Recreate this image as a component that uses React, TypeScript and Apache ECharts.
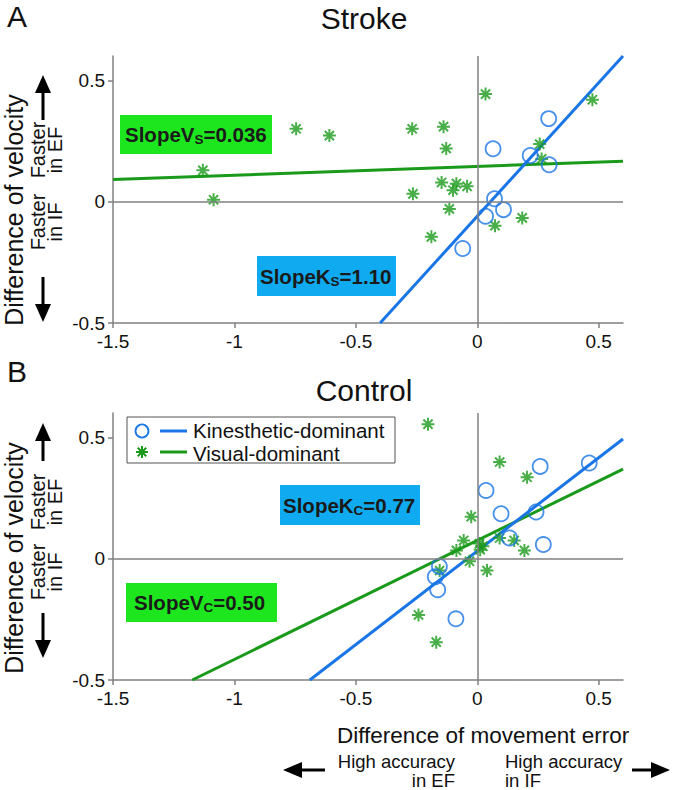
import React, { useEffect, useRef } from 'react';
import * as echarts from 'echarts';

// ---- data ----
const xTickValues = [-1.5, -1, -0.5, 0, 0.5];
const yTickValues = [-0.5, 0, 0.5];
const xRange = [-1.5, 0.6];
const yRange = [-0.5, 0.6];

const strokeKinesthetic = [
  [0.294, 0.342], [0.065, 0.218], [0.218, 0.19], [0.296, 0.152],
  [0.071, 0.012], [0.108, -0.033], [0.034, -0.06], [-0.06, -0.193],
];
const strokeVisual = [
  [-0.746, 0.3], [-0.609, 0.272], [-1.13, 0.129], [-1.086, 0.008],
  [0.034, 0.443], [0.474, 0.42], [-0.268, 0.3], [-0.139, 0.309],
  [-0.128, 0.219], [0.257, 0.237], [0.265, 0.176], [-0.147, 0.079],
  [-0.086, 0.074], [-0.1, 0.047], [-0.042, 0.063], [-0.265, 0.032],
  [-0.115, -0.03], [0.185, -0.067], [0.073, -0.099], [-0.189, -0.145],
];
const controlKinesthetic = [
  [0.259, 0.38], [0.461, 0.394], [0.036, 0.281], [0.098, 0.185],
  [0.242, 0.192], [0.133, 0.085], [0.272, 0.058], [-0.156, -0.032],
  [-0.173, -0.075], [-0.163, -0.128], [-0.088, -0.248],
];
const controlVisual = [
  [-0.203, 0.554], [0.092, 0.398], [0.205, 0.335], [-0.025, 0.173],
  [-0.056, 0.075], [-0.086, 0.034], [0.009, 0.062], [0.012, 0.037],
  [0.023, 0.051], [0.092, 0.085], [0.152, 0.075], [0.194, 0.034],
  [-0.032, -0.011], [0.04, -0.049], [-0.155, -0.049], [-0.242, -0.232],
  [-0.169, -0.344],
];
// regression fits [slope, intercept]
const strokeFitK = [1.10, -0.06];
const strokeFitV = [0.036, 0.145];
const controlFitK = [0.77, 0.031];
const controlFitV = [0.49, 0.075];

const BLUE = '#1a76e6';
const GREEN = '#1a9a1a';
const GRAY = '#808080';
const FONT = 'Liberation Sans, Arial, sans-serif';

function fitLine(fit: number[]) {
  const [m, b] = fit;
  let x0 = xRange[0];
  let x1 = xRange[1];
  const xa = (yRange[0] - b) / m;
  const xb = (yRange[1] - b) / m;
  x0 = Math.max(x0, Math.min(xa, xb));
  x1 = Math.min(x1, Math.max(xa, xb));
  return [[x0, m * x0 + b], [x1, m * x1 + b]];
}

const ASTERISK = 'path://M6,0 L6,12 M0,6 L12,6 M1.76,1.76 L10.24,10.24 M1.76,10.24 L10.24,1.76';

function axesFor(idx: number) {
  const common = {
    gridIndex: idx,
    axisLine: { show: true, onZero: false, lineStyle: { color: GRAY, width: 1.5 } },
    axisTick: { show: true, length: 5, lineStyle: { color: GRAY, width: 1.5 } },
    splitLine: { show: false },
    axisLabel: { color: '#111', fontSize: 19, fontFamily: FONT, margin: 8 },
  };
  return {
    x: {
      ...common,
      type: 'value',
      min: xRange[0],
      max: xRange[1],
      interval: 0.5,
      axisTick: { ...common.axisTick, customValues: xTickValues },
      axisLabel: { ...common.axisLabel, customValues: xTickValues, margin: 9 },
    },
    y: {
      ...common,
      type: 'value',
      min: yRange[0],
      max: yRange[1],
      interval: 0.5,
      axisTick: { ...common.axisTick, customValues: yTickValues },
      axisLabel: { ...common.axisLabel, customValues: yTickValues },
    },
  };
}

function seriesFor(idx: number, kin: number[][], vis: number[][], fitK: number[], fitV: number[]) {
  return [
    {
      type: 'line', xAxisIndex: idx, yAxisIndex: idx, data: fitLine(fitV), showSymbol: false,
      lineStyle: { color: GREEN, width: 3 }, z: 2, silent: true,
      markLine: {
        silent: true, symbol: ['none', 'none'], label: { show: false },
        lineStyle: { color: GRAY, width: 1.5, type: 'solid' },
        data: [{ xAxis: 0 }, { yAxis: 0 }],
      },
    },
    {
      type: 'line', xAxisIndex: idx, yAxisIndex: idx, data: fitLine(fitK), showSymbol: false,
      lineStyle: { color: BLUE, width: 3 }, z: 2, silent: true,
    },
    {
      type: 'scatter', xAxisIndex: idx, yAxisIndex: idx, data: vis, symbol: ASTERISK, symbolSize: 13,
      itemStyle: { color: 'transparent', borderColor: GREEN, borderWidth: 2 }, z: 3,
    },
    {
      type: 'scatter', xAxisIndex: idx, yAxisIndex: idx, data: kin, symbol: 'circle', symbolSize: 15,
      itemStyle: { color: 'transparent', borderColor: BLUE, borderWidth: 1.8 }, z: 4,
    },
  ];
}

function txt(x: number, y: number, text: string, size: number, extra: any = {}) {
  return {
    type: 'text', x, y, ...extra.el,
    style: {
      text, fontSize: size, fontFamily: FONT, fill: '#111',
      align: 'left', verticalAlign: 'middle', ...extra.style,
    },
  };
}

function vertArrow(x: number, tip: number, tail: number) {
  const dir = tail > tip ? 1 : -1;
  const head = 18;
  return [
    { type: 'line', shape: { x1: x, y1: tip + dir * (head - 2), x2: x, y2: tail }, style: { stroke: '#000', lineWidth: 3 } },
    { type: 'polygon', shape: { points: [[x, tip], [x - 8, tip + dir * head], [x + 8, tip + dir * head]] }, style: { fill: '#000' } },
  ];
}
function horizArrow(y: number, tip: number, tail: number) {
  const dir = tail > tip ? 1 : -1;
  const head = 19;
  return [
    { type: 'line', shape: { x1: tip + dir * (head - 2), y1: y, x2: tail, y2: y }, style: { stroke: '#000', lineWidth: 3 } },
    { type: 'polygon', shape: { points: [[tip, y], [tip + dir * head, y - 8], [tip + dir * head, y + 8]] }, style: { fill: '#000' } },
  ];
}

function slopeLabel(bx: number, by: number, bw: number, bh: number, tx: number, main: string, sub: string, val: string, color: string) {
  return [
    { type: 'rect', shape: { x: bx, y: by, width: bw, height: bh }, style: { fill: color }, z: 10 },
    {
      type: 'text', x: tx, y: by + bh / 2, z: 11,
      style: {
        text: `{a|${main}}{s|${sub}}{a|${val}}`,
        align: 'left', verticalAlign: 'middle',
        rich: {
          a: { fontSize: 20.5, fontWeight: 'bold', fontFamily: FONT, fill: '#1a1a1a', lineHeight: 24 },
          s: { fontSize: 13.5, fontWeight: 'bold', fontFamily: FONT, fill: '#1a1a1a', lineHeight: 14, verticalAlign: 'bottom' },
        },
      },
    },
  ];
}

function asteriskLines(cx: number, cy: number, r: number, color: string) {
  const d = r * 0.707;
  return [
    [cx, cy - r, cx, cy + r], [cx - r, cy, cx + r, cy],
    [cx - d, cy - d, cx + d, cy + d], [cx - d, cy + d, cx + d, cy - d],
  ].map(([x1, y1, x2, y2]) => ({ type: 'line', z: 12, shape: { x1, y1, x2, y2 }, style: { stroke: color, lineWidth: 2 } }));
}

export default function App() {
  const ref = useRef<HTMLDivElement>(null);
  useEffect(() => {
    if (!ref.current) return;
    const chart = echarts.init(ref.current, undefined, { renderer: 'svg' });
    const a0 = axesFor(0);
    const a1 = axesFor(1);
    const rot = { el: { rotation: Math.PI / 2 } };
    const graphic: any[] = [
      txt(7, 16, 'A', 30),
      txt(364, 18, 'Stroke', 30, { style: { align: 'center' } }),
      txt(7, 371, 'B', 30),
      txt(364, 390, 'Control', 30, { style: { align: 'center' } }),
      // y titles
      txt(14, 210, 'Difference of velocity', 25, { ...rot, style: { align: 'center', lineHeight: 26 } }),
      txt(14, 558, 'Difference of velocity', 25, { ...rot, style: { align: 'center', lineHeight: 26 } }),
      txt(46, 150, 'Faster\nin EF', 20, { ...rot, style: { align: 'center', lineHeight: 17 } }),
      txt(46, 222, 'Faster\nin IF', 20, { ...rot, style: { align: 'center', lineHeight: 17 } }),
      txt(46, 502, 'Faster\nin EF', 20, { ...rot, style: { align: 'center', lineHeight: 17 } }),
      txt(46, 572, 'Faster\nin IF', 20, { ...rot, style: { align: 'center', lineHeight: 17 } }),
      ...vertArrow(43, 75, 120),
      ...vertArrow(43, 322, 277),
      ...vertArrow(43, 423, 461),
      ...vertArrow(43, 658, 613),
      // x title
      txt(337, 735, 'Difference of movement error', 22.5),
      txt(455, 771, 'High accuracy\nin EF', 18.5, { style: { align: 'right', lineHeight: 19 } }),
      txt(505, 771, 'High accuracy\nin IF', 18.5, { style: { align: 'left', lineHeight: 19 } }),
      ...horizArrow(770, 283, 325),
      ...horizArrow(770, 670, 632),
      // slope labels
      ...slopeLabel(120, 115, 152, 39, 125, 'SlopeV', 'S', '=0.036', '#1ee61e'),
      ...slopeLabel(257, 256, 139, 40, 260, 'SlopeK', 'S', '=1.10', '#0faaf0'),
      ...slopeLabel(280, 485, 140, 40, 283, 'SlopeK', 'C', '=0.77', '#0faaf0'),
      ...slopeLabel(126, 583, 151, 39, 134, 'SlopeV', 'C', '=0.50', '#1ee61e'),
      // legend
      { type: 'rect', z: 11, shape: { x: 127, y: 417, width: 268, height: 46 }, style: { fill: '#fff', stroke: '#555', lineWidth: 1 } },
      { type: 'circle', z: 12, shape: { cx: 142, cy: 431, r: 6.5 }, style: { fill: 'transparent', stroke: BLUE, lineWidth: 1.8 } },
      { type: 'line', z: 12, shape: { x1: 160, y1: 431, x2: 187, y2: 431 }, style: { stroke: BLUE, lineWidth: 3 } },
      { ...txt(193, 430, 'Kinesthetic-dominant', 20.5, { style: { lineHeight: 20 } }), z: 12 },
      ...asteriskLines(142, 452, 6, GREEN),
      { type: 'line', z: 12, shape: { x1: 160, y1: 452, x2: 187, y2: 452 }, style: { stroke: GREEN, lineWidth: 3 } },
      { ...txt(193, 453, 'Visual-dominant', 20.5, { style: { lineHeight: 20 } }), z: 12 },
    ];
    chart.setOption({
      animation: false,
      backgroundColor: '#fff',
      grid: [
        { left: 113, top: 56, width: 510, height: 267 },
        { left: 113, top: 413, width: 510, height: 267 },
      ],
      xAxis: [a0.x, a1.x],
      yAxis: [a0.y, a1.y],
      series: [
        ...seriesFor(0, strokeKinesthetic, strokeVisual, strokeFitK, strokeFitV),
        ...seriesFor(1, controlKinesthetic, controlVisual, controlFitK, controlFitV),
      ],
      graphic,
    });
    return () => chart.dispose();
  }, []);
  return <div ref={ref} style={{ position: 'fixed', left: 0, top: 0, width: 675, height: 790 }} />;
}
